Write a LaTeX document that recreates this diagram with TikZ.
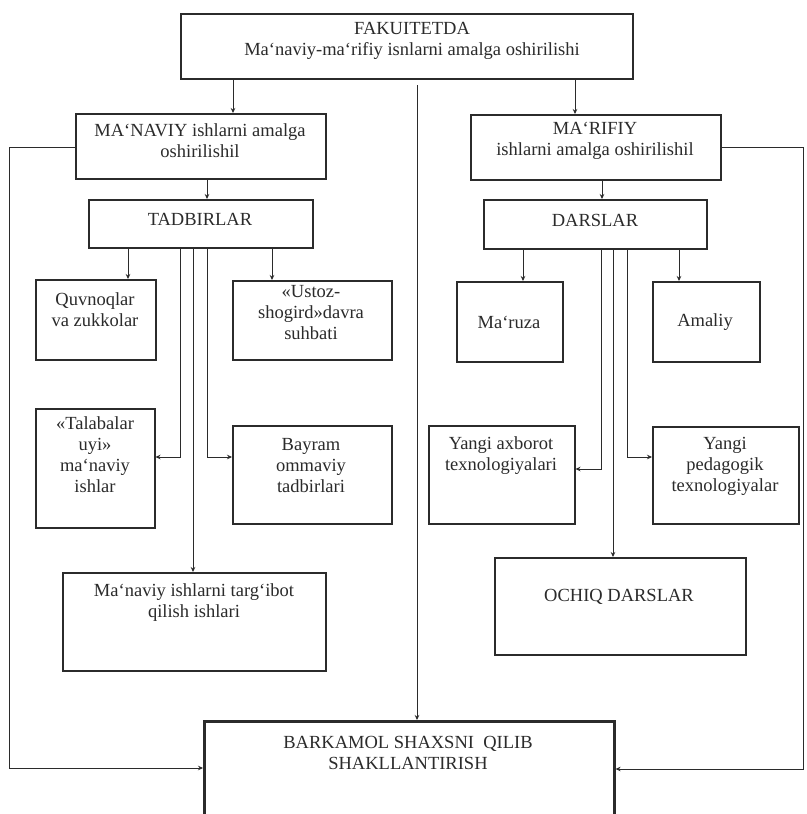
\documentclass[tikz,border=0pt]{standalone}
\usepackage{fontspec}
\setmainfont{Liberation Serif}
\usetikzlibrary{arrows.meta}
\definecolor{ink}{HTML}{2B2B2B}
\begin{document}
\begin{tikzpicture}[x=1pt,y=-1pt,
  box/.style={draw=ink,line width=1.5pt,rectangle,anchor=north west,inner sep=0pt},
  txt/.style={align=center,text=ink,font=\fontsize{18.5}{21}\selectfont,inner sep=0pt},
  conn/.style={draw=ink,line width=0.75pt},
  arr/.style={conn,-{Stealth[length=5pt,width=4.5pt]}}]
\useasboundingbox (0,0) rectangle (806,814);
\clip (0,0) rectangle (806,814);
\fill[white] (0,0) rectangle (806,814);

% boxes
\node[box,line width=2.2pt,minimum width=452pt,minimum height=65pt] (top) at (180,13) {};
\node[box,minimum width=250pt,minimum height=65pt] (man) at (75,113) {};
\node[box,minimum width=250pt,minimum height=65pt] (mar) at (470,114) {};
\node[box,minimum width=224pt,minimum height=48pt] (tad) at (88,199) {};
\node[box,minimum width=223pt,minimum height=49pt] (dar) at (483,199) {};
\node[box,minimum width=120pt,minimum height=80pt] (quv) at (35,279) {};
\node[box,minimum width=159pt,minimum height=79pt] (ust) at (232,280) {};
\node[box,minimum width=119pt,minimum height=119pt] (tal) at (35,408) {};
\node[box,minimum width=159pt,minimum height=98pt] (bay) at (232,425) {};
\node[box,minimum width=263pt,minimum height=98pt] (tar) at (62,572) {};
\node[box,minimum width=106pt,minimum height=80pt] (mrz) at (456,281) {};
\node[box,minimum width=107pt,minimum height=80pt] (ama) at (652,281) {};
\node[box,minimum width=146pt,minimum height=98pt] (axb) at (428,425) {};
\node[box,minimum width=146pt,minimum height=97pt] (ped) at (652,426) {};
\node[box,minimum width=251pt,minimum height=97pt] (och) at (494,557) {};
\node[box,line width=2.6pt,minimum width=410pt,minimum height=115pt] (bar) at (203,720) {};

% texts
\node[txt] (topT) at (412,41) {FAKUITETDA\\Ma`naviy-ma`rifiy isnlarni amalga oshirilishi};
\node[txt] (manT) at (200,141) {MA`NAVIY ishlarni amalga\\oshirilishil};
\node[txt] (marT) at (595,141) {MA`RIFIY\\ishlarni amalga oshirilishil};
\node[txt] (tadT) at (200,219) {TADBIRLAR};
\node[txt] (darT) at (595,220) {DARSLAR};
\node[txt] (quvT) at (95,310) {Quvnoqlar\\va zukkolar};
\node[txt] (ustT) at (311,313) {«Ustoz-\\shogird»davra\\suhbati};
\node[txt] (talT) at (95,455) {«Talabalar\\uyi»\\ma`naviy\\ishlar};
\node[txt] (bayT) at (311,466) {Bayram\\ommaviy\\tadbirlari};
\node[txt] (tarT) at (194,603) {Ma`naviy ishlarni targ`ibot\\qilish ishlari};
\node[txt] (mrzT) at (509,322) {Ma`ruza};
\node[txt] (amaT) at (705,322) {Amaliy};
\node[txt] (axbT) at (501,456) {Yangi axborot\\texnologiyalari};
\node[txt] (pedT) at (725,466) {Yangi\\pedagogik\\texnologiyalar};
\node[txt] (ochT) at (619,597) {OCHIQ DARSLAR};
\node[txt] (barT) at (408,753) {BARKAMOL SHAXSNI~ QILIB\\SHAKLLANTIRISH};

% helper coordinates
\coordinate (xA) at (233,0);
\coordinate (xB) at (575,0);
\coordinate (xC) at (417,85);
\coordinate (xD) at (207,0);
\coordinate (xE) at (602,0);
\coordinate (t1) at (128,0);
\coordinate (t2) at (180,457);
\coordinate (t3) at (193,0);
\coordinate (t4) at (207,457);
\coordinate (t5) at (272,0);
\coordinate (d1) at (523,0);
\coordinate (d2) at (601,469);
\coordinate (d3) at (613,0);
\coordinate (d4) at (627,457);
\coordinate (d5) at (679,0);
\coordinate (lL) at (9,147);
\coordinate (lLb) at (9,768);
\coordinate (rR) at (803,147);
\coordinate (rRb) at (803,769);

% connectors
\draw[arr] (xA |- top.south) -- (xA |- man.north);
\draw[arr] (xB |- top.south) -- (xB |- mar.north);
\draw[arr] (xC) -- (xC |- bar.north);
\draw[arr] (xD |- man.south) -- (xD |- tad.north);
\draw[arr] (xE |- mar.south) -- (xE |- dar.north);

\draw[arr] (t1 |- tad.south) -- (t1 |- quv.north);
\draw[arr] (t5 |- tad.south) -- (t5 |- ust.north);
\draw[arr] (t2 |- tad.south) -- (t2) -- (t2 -| tal.east);
\draw[arr] (t4 |- tad.south) -- (t4) -- (t4 -| bay.west);
\draw[arr] (t3 |- tad.south) -- (t3 |- tar.north);

\draw[arr] (d1 |- dar.south) -- (d1 |- mrz.north);
\draw[arr] (d5 |- dar.south) -- (d5 |- ama.north);
\draw[arr] (d2 |- dar.south) -- (d2) -- (d2 -| axb.east);
\draw[arr] (d4 |- dar.south) -- (d4) -- (d4 -| ped.west);
\draw[arr] (d3 |- dar.south) -- (d3 |- och.north);

\draw[arr] (lL -| man.west) -- (lL) -- (lLb) -- (lLb -| bar.west);
\draw[arr] (rR -| mar.east) -- (rR) -- (rRb) -- (rRb -| bar.east);
\end{tikzpicture}
\end{document}
